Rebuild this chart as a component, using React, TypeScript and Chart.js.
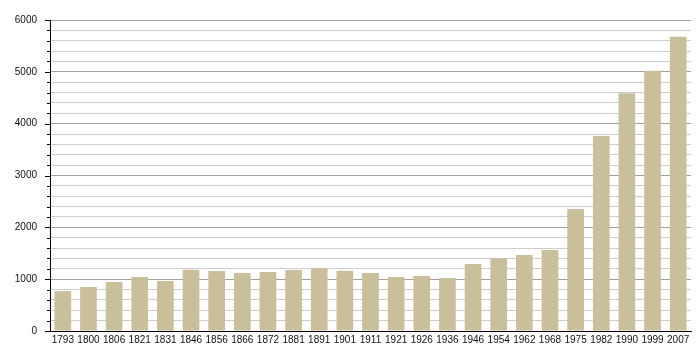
import React, { useEffect, useRef } from "react";
import { Chart, registerables } from "chart.js";

Chart.register(...registerables);

const years = [
  "1793", "1800", "1806", "1821", "1831", "1846", "1856", "1866", "1872",
  "1881", "1891", "1901", "1911", "1921", "1926", "1936", "1946", "1954",
  "1962", "1968", "1975", "1982", "1990", "1999", "2007",
];
const population = [
  770, 850, 946, 1042, 965, 1183, 1158, 1120, 1139,
  1178, 1210, 1164, 1120, 1042, 1062, 1023, 1293, 1403,
  1467, 1564, 2355, 3764, 4589, 5019, 5676,
];
const yMax = 6000;
const yStep = 200;
const yLabelStep = 1000;

const tickMarks = {
  id: "tickMarks",
  afterDraw(chart: any) {
    const y = chart.scales.y;
    const ctx = chart.ctx;
    const left = chart.chartArea.left;
    ctx.save();
    ctx.strokeStyle = "#000";
    ctx.lineWidth = 1;
    for (let v = 0; v <= yMax; v += yStep) {
      const py = Math.round(y.getPixelForValue(v)) + 0.5;
      const len = v % yLabelStep === 0 ? 5 : 3;
      ctx.beginPath();
      ctx.moveTo(left - len, py);
      ctx.lineTo(left, py);
      ctx.stroke();
    }
    ctx.restore();
  },
};

export default function App() {
  const ref = useRef<HTMLCanvasElement>(null);
  useEffect(() => {
    document.body.style.margin = "0";
    const chart = new Chart(ref.current!, {
      type: "bar",
      data: {
        labels: years,
        datasets: [
          {
            data: population,
            backgroundColor: "#c9bf9b",
            borderWidth: 0,
            barPercentage: 0.65,
            categoryPercentage: 1,
          },
        ],
      },
      options: {
        animation: false,
        responsive: false,
        devicePixelRatio: 1,
        layout: { padding: { top: 20, right: 9, left: 0, bottom: 0 } },
        plugins: { legend: { display: false }, tooltip: { enabled: false } },
        scales: {
          x: {
            grid: { display: true, color: "transparent", drawTicks: false },
            border: { display: true, color: "#000", width: 1 },
            ticks: {
              color: "#111",
              font: { family: "Liberation Sans, Arial", size: 10 },
              padding: 3,
              maxRotation: 0,
              autoSkip: false,
            },
            afterFit: (s: any) => {
              s.height = 29;
            },
          },
          y: {
            min: 0,
            max: yMax,
            grid: {
              drawTicks: false,
              color: (c: any) =>
                c.tick && c.tick.value % yLabelStep === 0 ? "#a0a0a0" : "#cccccc",
            },
            border: { display: true, color: "#000", width: 1 },
            ticks: {
              stepSize: yStep,
              autoSkip: false,
              color: "#111",
              font: { family: "Liberation Sans, Arial", size: 10 },
              padding: 13,
              callback: (v: any) => (Number(v) % yLabelStep === 0 ? String(v) : ""),
            },
            afterFit: (s: any) => {
              s.width = 50;
            },
          },
        },
      },
      plugins: [tickMarks],
    });
    return () => chart.destroy();
  }, []);
  return (
    <div style={{ width: 700, height: 360 }}>
      <canvas ref={ref} width={700} height={360} />
    </div>
  );
}
